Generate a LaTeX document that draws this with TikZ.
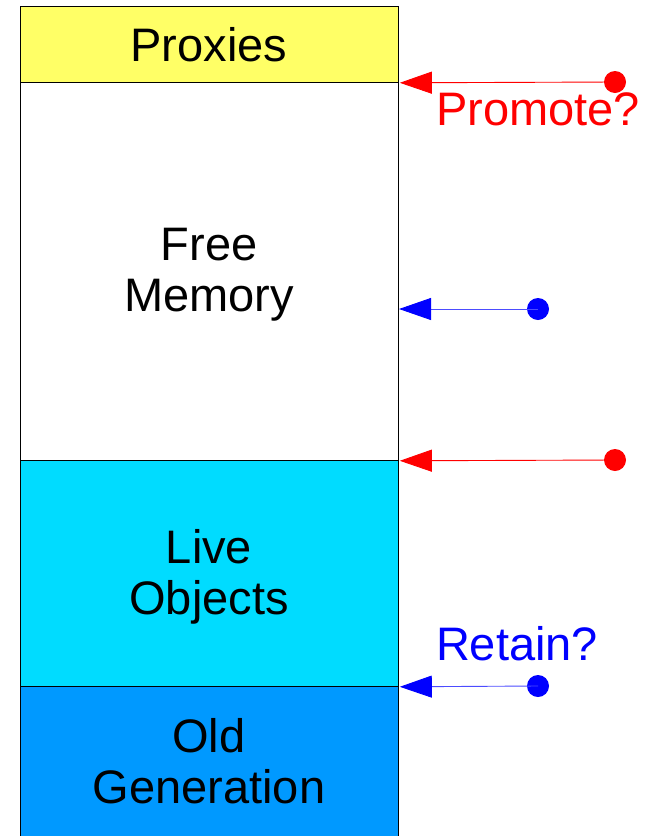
\documentclass[tikz,border=0pt]{standalone}
\usepackage{fontspec}
\setmainfont{Liberation Sans}
\usetikzlibrary{arrows.meta}
\definecolor{proxyyellow}{HTML}{FFFF66}
\definecolor{livecyan}{HTML}{00DCFF}
\definecolor{oldblue}{HTML}{0099FF}
\definecolor{ptrred}{HTML}{FF0000}
\definecolor{ptrblue}{HTML}{0000FF}
\tikzset{
  region/.style={draw=black, line width=0.8pt, minimum width=378pt, inner sep=0pt, anchor=north west},
  lbl/.style={font=\fontsize{47}{52}\selectfont, anchor=base, inner sep=0pt},
  redptr/.style={line width=0.9pt, ptrred, -{Triangle[length=32pt,width=22pt]}, shorten >=1pt},
  blueptr/.style={line width=0.9pt, ptrblue!70, -{Triangle[length=32pt,width=22pt,color=ptrblue]}, shorten >=1pt},
  dot/.style={circle, fill, inner sep=0pt, minimum size=22pt},
}
\begin{document}
\begin{tikzpicture}[x=1pt,y=-1pt]
\useasboundingbox (0,0) rectangle (654,836);
% regions
\node[region, fill=proxyyellow, minimum height=76pt] (proxies) at (20,6) {};
\node[region, fill=white, minimum height=378pt] (free) at (20,82) {};
\node[region, fill=livecyan, minimum height=226pt] (live) at (20,460) {};
\node[region, fill=oldblue, minimum height=154pt] (old) at (20,686) {};
% labels
\node[lbl] (tproxies) at (209,61) {Proxies};
\node[lbl] (tfree1) at (209,260) {Free};
\node[lbl] (tfree2) at (209,311) {Memory};
\node[lbl] (tlive1) at (209,563) {Live};
\node[lbl] (tlive2) at (209,614) {Objects};
\node[lbl] (told1) at (209,752) {Old};
\node[lbl] (told2) at (209,803) {Generation};
% pointers
\node[dot, ptrred] (d1) at (615,82) {};
\node[dot, ptrblue] (d2) at (538,309) {};
\node[dot, ptrred] (d3) at (615,460) {};
\node[dot, ptrblue] (d4) at (538,686) {};
\coordinate (e2) at (398,309);
\draw[redptr] (d1.center) -- (proxies.south east);
\draw[blueptr] (d2.center) -- (e2);
\draw[redptr] (d3.center) -- (free.south east);
\draw[blueptr] (d4.center) -- (live.south east);
\node[lbl, text=ptrred] (tpromote) at (538,125) {Promote?};
\node[lbl, text=ptrblue] (tretain) at (517,660) {Retain?};
\end{tikzpicture}
\end{document}
